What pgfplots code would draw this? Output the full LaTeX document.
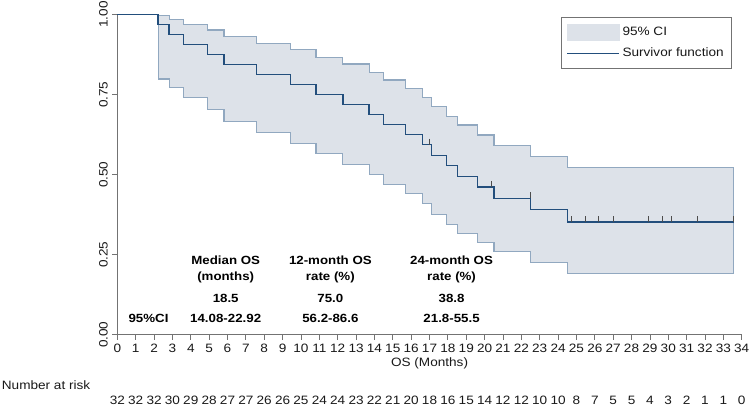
\documentclass[border=0pt]{standalone}
\usepackage{pgfplots}
\pgfplotsset{compat=1.18}
\usepackage{fontspec}
\setmainfont{Liberation Sans}[FakeStretch=1.12]
\definecolor{survline}{RGB}{34,78,124}
\definecolor{ciline}{RGB}{145,168,192}
\definecolor{cifill}{RGB}{221,226,233}
\definecolor{axgray}{RGB}{115,115,115}
\definecolor{txt}{RGB}{25,25,25}
\newcommand\fs{\fontsize{9.1}{10.8}\selectfont}
\begin{document}
\begin{tikzpicture}
\useasboundingbox (-88pt,-54.2pt) rectangle (474.5pt,251pt);
\begin{axis}[
  scale only axis, width=468.3pt, height=240pt,
  xmin=0, xmax=34, ymin=0, ymax=1,
  axis lines*=left,
  axis line style={axgray, line width=0.8pt},
  xtick={0,...,34}, ytick={0,0.25,0.5,0.75,1},
  tick align=outside, major tick length=3.75pt,
  tick style={axgray, line width=0.6pt},
  /pgf/number format/assume math mode=true,
  ticklabel style={font=\fs, text=txt},
  yticklabel style={rotate=90, anchor=south, /pgf/number format/.cd, fixed, fixed zerofill, precision=2},
  xlabel={OS (Months)},
  xlabel style={font=\fs, text=txt, yshift=3pt},
  clip=false,
  legend style={at={(0.7106,0.9928)}, anchor=north west, draw=axgray, line width=0.6pt,
    font=\fs, text=txt, cells={anchor=west}, inner xsep=4pt, inner ysep=5pt, row sep=3.5pt},
]
\addlegendimage{legend image code/.code={\fill[cifill] (0pt,-6pt) rectangle (38.8pt,6pt);}}
\addlegendentry{95\% CI}
\addlegendimage{legend image code/.code={\draw[survline, line width=1pt] (0pt,0pt) -- (38.8pt,0pt);}}
\addlegendentry{Survivor function}

% 95% CI band (upper limit forward, lower limit backward)
\addplot[forget plot, fill=cifill, draw=ciline, line width=0.9pt] coordinates {
(2.22,0.998) (2.82,0.998) (2.82,0.9855) (3.62,0.9855) (3.62,0.970) (4.90,0.970) (4.90,0.952) (5.81,0.952) (5.81,0.933) (7.59,0.933) (7.59,0.9105) (9.42,0.9105) (9.42,0.890) (10.82,0.890) (10.82,0.867) (12.28,0.867) (12.28,0.846) (13.71,0.846) (13.71,0.82) (14.48,0.82) (14.48,0.796) (15.70,0.796) (15.70,0.769) (16.61,0.769) (16.61,0.742) (17.12,0.742) (17.12,0.7125) (17.94,0.7125) (17.94,0.683) (18.54,0.683) (18.54,0.655) (19.60,0.655) (19.60,0.624) (20.51,0.624) (20.51,0.592) (22.49,0.592) (22.49,0.556) (24.50,0.556) (24.50,0.522) (33.57,0.522)
(33.57,0.19) (24.50,0.19) (24.50,0.225) (22.49,0.225) (22.49,0.26) (20.51,0.26) (20.51,0.288) (19.60,0.288) (19.60,0.317) (18.54,0.317) (18.54,0.345) (17.94,0.345) (17.94,0.376) (17.12,0.376) (17.12,0.41) (16.61,0.41) (16.61,0.44) (15.70,0.44) (15.70,0.47) (14.48,0.47) (14.48,0.501) (13.71,0.501) (13.71,0.5325) (12.28,0.5325) (12.28,0.565) (10.82,0.565) (10.82,0.597) (9.42,0.597) (9.42,0.631) (7.59,0.631) (7.59,0.665) (5.81,0.665) (5.81,0.703) (4.90,0.703) (4.90,0.740) (3.62,0.740) (3.62,0.773) (2.82,0.773) (2.82,0.799) (2.22,0.799)
} -- cycle;

% Survivor function
\addplot[forget plot, const plot, survline, line width=1pt] coordinates {
(0,1) (2.22,0.96875) (2.82,0.9375) (3.62,0.90625) (4.90,0.875) (5.81,0.84375) (7.59,0.8125) (9.42,0.78125) (10.82,0.75) (12.28,0.71875) (13.71,0.6875) (14.48,0.65625) (15.70,0.625) (16.61,0.59375) (17.12,0.5608) (17.94,0.5278) (18.54,0.4948) (19.60,0.4618) (20.51,0.4263) (22.49,0.3908) (24.50,0.3517) (33.57,0.3517)
};

% Censored observations
\addplot[forget plot, only marks, mark=|, mark size=2.25pt, draw=black!70, mark options={yshift=2.25pt, line width=0.6pt}] coordinates {
(16.99,0.59375) (20.39,0.4618) (22.49,0.4263) (24.7,0.3517) (25.5,0.3517) (26.2,0.3517) (27.0,0.3517) (28.9,0.3517) (29.67,0.3517) (30.16,0.3517) (31.56,0.3517) (33.57,0.3517)
};

% Number at risk
\addplot[forget plot, draw=none, mark=none, point meta=explicit symbolic, nodes near coords,
  nodes near coords style={anchor=center, font=\fs, text=txt}] coordinates {
(0,-0.204)[32] (1,-0.204)[32] (2,-0.204)[32] (3,-0.204)[30] (4,-0.204)[29] (5,-0.204)[28] (6,-0.204)[27] (7,-0.204)[27] (8,-0.204)[26] (9,-0.204)[26] (10,-0.204)[25] (11,-0.204)[24] (12,-0.204)[24] (13,-0.204)[23] (14,-0.204)[22] (15,-0.204)[21] (16,-0.204)[20] (17,-0.204)[18] (18,-0.204)[16] (19,-0.204)[15] (20,-0.204)[14] (21,-0.204)[12] (22,-0.204)[12] (23,-0.204)[10] (24,-0.204)[10] (25,-0.204)[8] (26,-0.204)[7] (27,-0.204)[5] (28,-0.204)[5] (29,-0.204)[4] (30,-0.204)[3] (31,-0.204)[2] (32,-0.204)[1] (33,-0.204)[1] (34,-0.204)[0]
};
\node[anchor=west, font=\fs, text=txt, inner sep=0pt] at (axis cs:-6.3,-0.157) {Number at risk};

% Summary table
\node[align=center, font=\fontsize{8.9}{12.2}\selectfont\bfseries] at (axis cs:5.9,0.205) {Median OS\\(months)};
\node[align=center, font=\fontsize{8.9}{12.2}\selectfont\bfseries] at (axis cs:11.6,0.205) {12-month OS\\rate (\%)};
\node[align=center, font=\fontsize{8.9}{12.2}\selectfont\bfseries] at (axis cs:18.2,0.205) {24-month OS\\rate (\%)};
\node[font=\fontsize{8.9}{10.5}\selectfont\bfseries] at (axis cs:5.9,0.114) {18.5};
\node[font=\fontsize{8.9}{10.5}\selectfont\bfseries] at (axis cs:11.6,0.114) {75.0};
\node[font=\fontsize{8.9}{10.5}\selectfont\bfseries] at (axis cs:18.2,0.114) {38.8};
\node[font=\fontsize{8.9}{10.5}\selectfont\bfseries] at (axis cs:1.7,0.051) {95\%CI};
\node[font=\fontsize{8.9}{10.5}\selectfont\bfseries] at (axis cs:5.9,0.051) {14.08-22.92};
\node[font=\fontsize{8.9}{10.5}\selectfont\bfseries] at (axis cs:11.6,0.051) {56.2-86.6};
\node[font=\fontsize{8.9}{10.5}\selectfont\bfseries] at (axis cs:18.2,0.051) {21.8-55.5};
\end{axis}
\end{tikzpicture}
\end{document}
